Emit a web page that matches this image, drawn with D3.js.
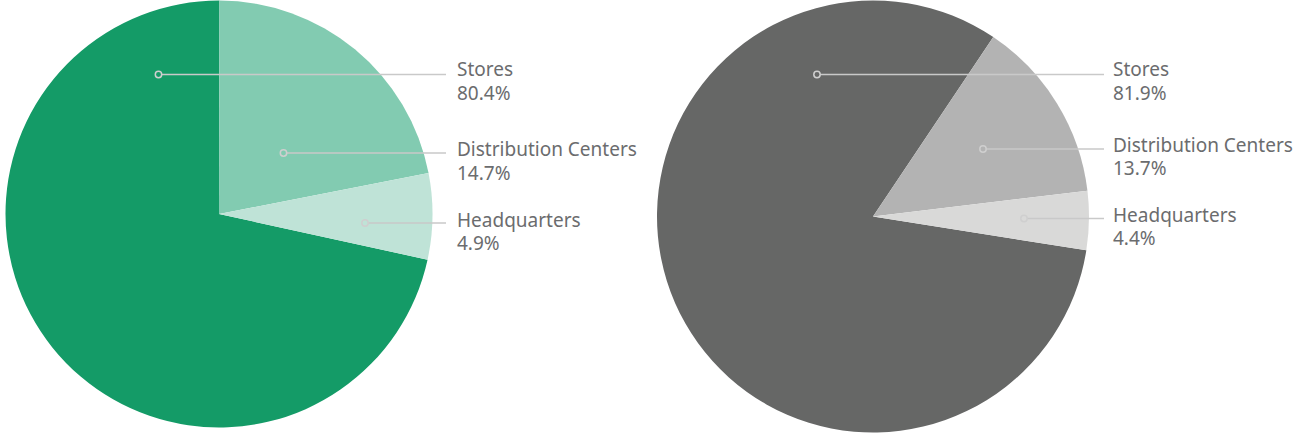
<!DOCTYPE html>
<html><head><meta charset="utf-8">
<script src="https://cdn.jsdelivr.net/npm/d3@7"></script>
<style>body{margin:0;background:#fff}svg{display:block}</style>
</head><body><svg id="chart" width="1297" height="433"></svg>
<script>
// ---- data ----
const categories = ["Stores", "Distribution Centers", "Headquarters"];
const leftLabelPct = [80.4, 14.7, 4.9];
const leftSliceShare = [71.6, 21.9, 6.5];   // slice sizes as drawn in the left pie
const rightLabelPct = [81.9, 13.7, 4.4];
const rightSliceShare = [81.9, 13.7, 4.4];
const leftColors = ["#149b67", "#82cbb1", "#bfe3d7"];
const rightColors = ["#666766", "#b3b3b3", "#d9d9d8"];

// ---- layout ----
const pies = [
  {cx: 219, cy: 214, r: 213.5, start: 102.36, shares: leftSliceShare, pct: leftLabelPct, colors: leftColors,
   dotX: [158.5, 283.5, 365], lineY: [74.5, 153, 223], baseY: [76, 156, 226.5], lineEnd: 446, textX: 457},
  {cx: 873, cy: 216.5, r: 216, start: 99, shares: rightSliceShare, pct: rightLabelPct, colors: rightColors,
   dotX: [817, 983, 1024], lineY: [74.5, 149, 218.5], baseY: [76, 151.5, 221.5], lineEnd: 1104, textX: 1113}
];
const FONT = "'Noto Sans', 'Open Sans', sans-serif";
const svg = d3.select("#chart");

pies.forEach(p => {
  const data = categories.map((c, i) => ({name: c, share: p.shares[i], pct: p.pct[i], color: p.colors[i]}));
  const a0 = p.start * Math.PI / 180;
  const pie = d3.pie().sort(null).value(d => d.share).startAngle(a0).endAngle(a0 + 2 * Math.PI);
  const arc = d3.arc().innerRadius(0).outerRadius(p.r);
  const g = svg.append("g").attr("transform", `translate(${p.cx},${p.cy})`);
  g.selectAll("path").data(pie(data)).join("path").attr("d", arc).attr("fill", d => d.data.color);

  const lg = svg.append("g");
  data.forEach((d, i) => {
    lg.append("line").attr("x1", p.dotX[i]).attr("x2", p.lineEnd)
      .attr("y1", p.lineY[i]).attr("y2", p.lineY[i])
      .attr("stroke", "#c9c9c9").attr("stroke-width", 1.5);
    lg.append("circle").attr("cx", p.dotX[i]).attr("cy", p.lineY[i]).attr("r", 3.2)
      .attr("fill", d.color).attr("stroke", "#cfcfcf").attr("stroke-width", 1.5);
    const t = lg.append("text").attr("x", p.textX).attr("y", p.baseY[i])
      .attr("font-family", FONT).attr("font-size", 19).attr("fill", "#6b6c6e");
    t.append("tspan").attr("x", p.textX).text(d.name);
    t.append("tspan").attr("x", p.textX).attr("dy", 23.5).text(d.pct.toFixed(1) + "%");
  });
});
</script></body></html>
